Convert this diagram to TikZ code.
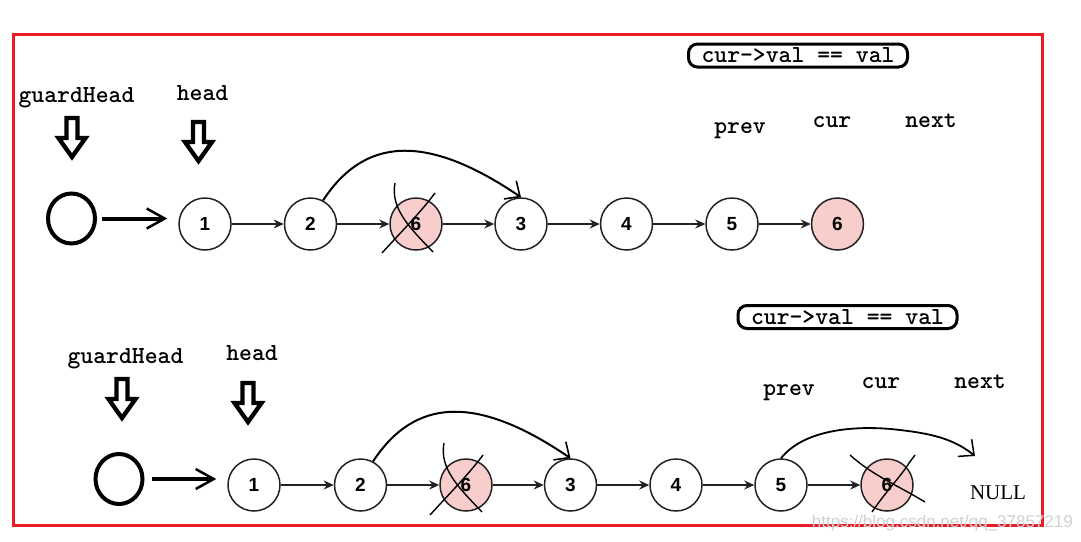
\documentclass[tikz,border=0pt]{standalone}
\usepackage{fontspec}
\setsansfont{Liberation Sans}
\newfontfamily\serifnull{Liberation Serif}
\usetikzlibrary{arrows.meta,shapes.geometric,calc}
\definecolor{bordred}{RGB}{232,28,36}
\definecolor{delpink}{RGB}{248,206,204}
\definecolor{ringgray}{RGB}{34,34,34}
\tikzset{
  lnode/.style={circle,draw=ringgray,line width=1.5pt,minimum size=52pt,inner sep=0pt,fill=white,
    font=\sffamily\bfseries\fontsize{19}{19}\selectfont},
  delnode/.style={lnode,fill=delpink},
  guard/.style={ellipse,draw=black,line width=4pt,minimum width=47pt,minimum height=50pt,inner sep=0pt},
  lbl/.style={anchor=base,inner sep=0pt,font=\ttfamily\bfseries\fontsize{24.5}{24.5}\selectfont},
  condbox/.style={draw=black,line width=3pt,rounded corners=9pt,minimum width=219pt,minimum height=23pt,inner sep=0pt,
    font=\ttfamily\bfseries\fontsize{24.5}{24.5}\selectfont},
  link/.style={draw=ringgray,line width=1.4pt,-{Stealth[length=10pt,width=9pt]}},
  thickarr/.style={line width=4pt,-{Straight Barb[length=18pt,width=20pt,line width=2.5pt]}},
  hop/.style={line width=2pt,-{Straight Barb[length=12pt,width=22pt,line width=1.6pt]}},
  hophand/.style={line width=1.8pt,-{Straight Barb[length=12pt,width=22pt,line width=1.5pt]}},
  xline/.style={line width=1.4pt},
  pics/harrow/.style={code={
    \draw[line width=4.3pt,miter limit=10] (-5.5,0) -- (5.5,0) -- (5.5,20) -- (13.5,20) -- (0,39) -- (-13.5,20) -- (-5.5,20) -- cycle;}},
}
\begin{document}
\begin{tikzpicture}[x=1pt,y=-1pt]
\useasboundingbox (0,0) rectangle (1081,541);
\fill[white] (0,0) rectangle (1081,541);
\draw[bordred,line width=3pt] (13.5,34.7) rectangle (1042.5,525.3);

% ---------------- top row ----------------
\node[guard] (g1) at (71.5,218.5) {};
\node[lnode] (t1) at (205,224) {1};
\node[lnode] (t2) at (310.5,224) {2};
\node[delnode] (t6a) at (416,224) {6};
\node[lnode] (t3) at (521,224) {3};
\node[lnode] (t4) at (626.5,224) {4};
\node[lnode] (t5) at (732,224) {5};
\node[delnode] (t6b) at (837.5,224) {6};

\draw[thickarr,shorten <=5pt,shorten >=11pt] (g1.east) -- (g1.east -| t1.west);
\draw[link] (t1) -- (t2);
\draw[link] (t2) -- (t6a);
\draw[link] (t6a) -- (t3);
\draw[link] (t3) -- (t4);
\draw[link] (t4) -- (t5);
\draw[link] (t5) -- (t6b);

\draw[hop] (t2.62) .. controls (364,138) and (425,132) .. (t3.north);
\begin{scope}[shift={(t6a.center)}]
  \draw[xline] (-34,29) .. controls (-15,8) and (5,-12) .. (19,-31);
  \draw[xline] (-21,-41) .. controls (-26,-15) and (-5,5) .. (17,28);
\end{scope}

\node[lbl] (lg1) at (76.5,102) {guardHead};
\node[lbl] (lh1) at (202.5,100) {head};
\pic at (72,118) {harrow};
\pic at (198.5,122) {harrow};

\node[condbox] (c1) at (798,55.5) {cur->val == val};
\node[lbl] (lp1) at (740,133) {prev};
\node[lbl] (lc1) at (832,127) {cur};
\node[lbl] (ln1) at (931,127) {next};

% ---------------- bottom row ----------------
\node[guard] (g2) at (119,479) {};
\node[lnode] (b1) at (254,485) {1};
\node[lnode] (b2) at (360.5,485) {2};
\node[delnode] (b6a) at (466,485) {6};
\node[lnode] (b3) at (570.5,485) {3};
\node[lnode] (b4) at (676,485) {4};
\node[lnode] (b5) at (781,485) {5};
\node[delnode] (b6b) at (887,485) {6};

\draw[thickarr,shorten <=7pt,shorten >=11pt] (g2.east) -- (g2.east -| b1.west);
\draw[link] (b1) -- (b2);
\draw[link] (b2) -- (b6a);
\draw[link] (b6a) -- (b3);
\draw[link] (b3) -- (b4);
\draw[link] (b4) -- (b5);
\draw[link] (b5) -- (b6b);

\draw[hop] (b2.62) .. controls (414,399) and (475,393) .. (b3.north);
\begin{scope}[shift={(b6a.center)}]
  \draw[xline] (-36,30) .. controls (-17,9) and (3,-11) .. (17,-30);
  \draw[xline] (-22,-42) .. controls (-27,-16) and (-6,4) .. (16,27);
\end{scope}
\begin{scope}[shift={(b6b.center)}]
  \draw[xline] (-37,-30) .. controls (-15,-10) and (10,0) .. (38,17);
  \draw[xline] (-15,27) .. controls (0,5) and (15,-10) .. (22,-22) -- (28,-30);
\end{scope}

\node[anchor=center,inner sep=0pt,font=\serifnull\fontsize{21}{21}\selectfont] (null) at (998,493) {NULL};
\coordinate (nullin) at (975,456);
\draw[hophand] (b5.north) .. controls (805,428) and (860,425) .. (900,430) .. controls (935,434) and (955,440) .. (nullin);

\node[lbl] (lg2) at (125.5,363) {guardHead};
\node[lbl] (lh2) at (252,360) {head};
\pic at (122,379) {harrow};
\pic at (248,383) {harrow};

\node[condbox] (c2) at (847.5,317) {cur->val == val};
\node[lbl] (lp2) at (789,395) {prev};
\node[lbl] (lc2) at (881,388) {cur};
\node[lbl] (ln2) at (980,388) {next};

\node[anchor=base east,inner sep=0pt,text=black!18,font=\sffamily\fontsize{17}{17}\selectfont] (wm) at (1073,527) {https://blog.csdn.net/qq\_37857219};
\end{tikzpicture}
\end{document}
